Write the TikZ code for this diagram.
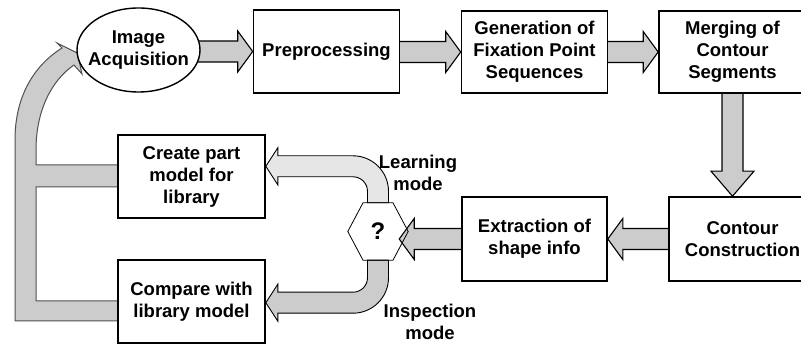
\documentclass[tikz,border=0pt]{standalone}
\usepackage{fontspec}
\setmainfont{Liberation Sans}
\usetikzlibrary{calc,shapes.geometric,backgrounds}

\definecolor{arrowgray}{HTML}{CCCCCC}
\definecolor{lightband}{HTML}{E6E6E6}
\definecolor{loopedge}{HTML}{505050}

\newcommand{\labelfont}{\fontsize{18.5}{22}\selectfont\bfseries}

\tikzset{
  box/.style={draw, line width=1.6pt, fill=white, minimum width=146pt,
    minimum height=83pt, inner sep=0pt, align=center, font=\labelfont},
  oval/.style={draw, ellipse, line width=1.4pt, fill=white,
    minimum width=123pt, minimum height=84pt, inner sep=0pt},
  plaintext/.style={align=center, font=\labelfont, inner sep=0pt},
  hexnode/.style={minimum width=60pt, minimum height=57pt, inner sep=0pt,
    font=\fontsize{24}{26}\selectfont\bfseries},
  hexline/.style={draw, line width=0.8pt, line join=miter},
  barrow/.style={draw, fill=arrowgray, line width=1.1pt, line join=miter},
  bandlight/.style={draw, fill=lightband, line width=0.9pt, line join=miter},
  banddark/.style={draw, fill=arrowgray, line width=0.9pt, line join=miter},
  loopband/.style={draw=loopedge, fill=arrowgray, line width=1pt, line join=miter},
}

% block arrow pointing right, from #1 to #2 (height taken from #2)
\newcommand{\blockright}[2]{%
  \path[barrow] let \p1=(#1), \p2=(#2) in
    (\x1-4pt,\y2+10.5pt) -- (\x2-15pt,\y2+10.5pt) -- (\x2-15pt,\y2+20.5pt)
    -- (\x2,\y2) -- (\x2-15pt,\y2-20.5pt) -- (\x2-15pt,\y2-10.5pt)
    -- (\x1-4pt,\y2-10.5pt) -- cycle;}
% block arrow pointing left, from #1 to #2 (height taken from #1)
\newcommand{\blockleft}[2]{%
  \path[barrow] let \p1=(#1), \p2=(#2) in
    (\x1+4pt,\y1+10.5pt) -- (\x2+15pt,\y1+10.5pt) -- (\x2+15pt,\y1+20.5pt)
    -- (\x2,\y1) -- (\x2+15pt,\y1-20.5pt) -- (\x2+15pt,\y1-10.5pt)
    -- (\x1+4pt,\y1-10.5pt) -- cycle;}
% block arrow pointing down, from #1 to #2
\newcommand{\blockdown}[2]{%
  \path[barrow] let \p1=(#1), \p2=(#2) in
    (\x1-10.5pt,\y1+4pt) -- (\x1-10.5pt,\y2+25pt) -- (\x1-21.5pt,\y2+25pt)
    -- (\x1,\y2) -- (\x1+21.5pt,\y2+25pt) -- (\x1+10.5pt,\y2+25pt)
    -- (\x1+10.5pt,\y1+4pt) -- cycle;}

\begin{document}
\begin{tikzpicture}[x=1pt,y=1pt]
\useasboundingbox (0,0) rectangle (801,-344);
\clip (0,0) rectangle (801,-344);

% process blocks
\node[oval] (acq) at (138.5,-50) {};
\node[plaintext] (acqtext) at (acq) {Image\\Acquisition};
\node[box] (pre) at (326.5,-51.5) {Preprocessing};
\node[box, minimum height=82pt] (gen) at (534.5,-52) {Generation of\\Fixation Point\\Sequences};
\node[box, minimum width=147pt, minimum height=82pt] (merg) at (732.5,-52) {Merging of\\Contour\\Segments};
\node[box, minimum width=147pt, minimum height=84pt] (cons) at (742.5,-239) {Contour\\Construction};
\node[box, minimum width=145pt, minimum height=84pt] (ext) at (534.5,-239) {Extraction of\\shape info};
\node[box, minimum width=147pt] (create) at (191.5,-176.5) {Create part\\model for\\library};
\node[box, minimum width=147pt] (compare) at (191.5,-301.5) {Compare with\\library model};

% decision hexagon
\node[hexnode] (hex) at (378,-231.5) {?};
\draw[hexline] (hex.west) -- ($(hex.north)+(-15,0)$) -- ($(hex.north)+(15,0)$)
  -- (hex.east) -- ($(hex.south)+(15,0)$) -- ($(hex.south)+(-15,0)$) -- cycle;
\coordinate (hexin) at ($(hex.east)+(-9,0)$);

% branch labels
\node[plaintext] (learn) at (418,-173) {Learning\\mode};
\node[plaintext] (insp) at (430,-322) {Inspection\\mode};

\begin{scope}[on background layer]
  % main pipeline
  \blockright{acq.east}{pre.west}
  \blockright{pre.east}{gen.west}
  \blockright{gen.east}{merg.west}
  \blockdown{merg.south}{cons.north}
  \blockleft{cons.west}{ext.east}
  \blockleft{ext.west}{hexin}

  % learning branch (upper bend)
  \path[bandlight] let \p1=(hex.north), \p2=(create.east) in
    (\x1+10.5pt,\y1) -- (\x1+10.5pt,\y1+11.5pt)
    arc[start angle=0, end angle=90, radius=35.5pt]
    -- (\x2+12pt,\y1+47pt) -- (\x2+12pt,\y1+55pt) -- (\x2,\y1+36.5pt)
    -- (\x2+12pt,\y1+18pt) -- (\x2+12pt,\y1+26pt) -- (\x1-25pt,\y1+26pt)
    arc[start angle=90, end angle=0, radius=14.5pt]
    -- (\x1-10.5pt,\y1) -- cycle;

  % inspection branch (lower bend)
  \path[banddark] let \p1=(hex.south), \p2=(compare.east) in
    (\x1+10.5pt,\y1) -- (\x1+10.5pt,\y1-17.5pt)
    arc[start angle=0, end angle=-90, radius=35.5pt]
    -- (\x2+12pt,\y1-53pt) -- (\x2+12pt,\y1-61pt) -- (\x2,\y1-42.5pt)
    -- (\x2+12pt,\y1-24pt) -- (\x2+12pt,\y1-32pt) -- (\x1-25pt,\y1-32pt)
    arc[start angle=-90, end angle=0, radius=14.5pt]
    -- (\x1-10.5pt,\y1) -- cycle;

  % feedback loop back to image acquisition
  \path[loopband] let \p1=(create.west), \p2=(compare.west), \p3=(acq.west) in
    (\x2+4pt,\y2-19.5pt) -- (15pt,\y2-19.5pt) -- (15pt,-140pt)
    .. controls (15pt,-95pt) and (35pt,-65pt) .. (62pt,-48pt)
    -- (57pt,-43pt) -- (\x3+1pt,-53pt) -- (82pt,-74pt) -- (74pt,-65pt)
    .. controls (52pt,-80pt) and (36pt,-110pt) .. (36pt,-150pt)
    -- (36pt,\y1+11.5pt) -- (\x1+4pt,\y1+11.5pt) -- (\x1+4pt,\y1-10.5pt)
    -- (36pt,\y1-10.5pt) -- (36pt,\y2+0.5pt) -- (\x2+4pt,\y2+0.5pt) -- cycle;
\end{scope}
\end{tikzpicture}
\end{document}
